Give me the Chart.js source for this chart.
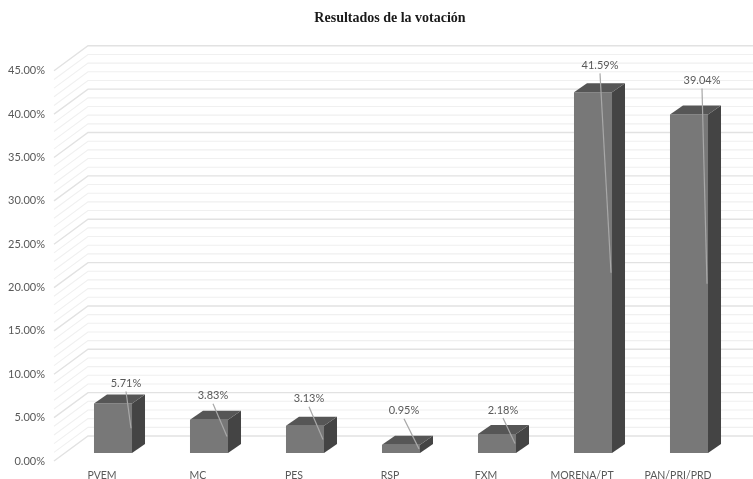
<!DOCTYPE html>
<html><head><meta charset="utf-8">
<style>html,body{margin:0;padding:0;background:#fff}#wrap{width:753px;height:479px}canvas{display:block;filter:blur(0.55px)}</style>
<script src="https://cdn.jsdelivr.net/npm/chart.js@4"></script>
</head><body><div id="wrap"><canvas id="c" width="753" height="479"></canvas></div>
<script>
const categories = ["PVEM","MC","PES","RSP","FXM","MORENA/PT","PAN/PRI/PRD"];
const votes = [5.71,3.83,3.13,0.95,2.18,41.59,39.04];
const chartTitle = "Resultados de la votación";
const axisMin = 0, axisMax = 45, majorStep = 5, minorStep = 1;

const wall = {dx:34, dy:-25};
const barPlane = {dx:11, dy:-8};
const barDepth = {dx:13, dy:-9};
const labelOffsets = [[13,-20],[4,-24],[4,-27],[3,-34],[6,-24],[7,-27],[13,-34]];
const faceColors = {top:"#565656", side:"#444444", edge:"#666666"};

const scene = {
  id:"scene",
  beforeDatasetsDraw(chart){
    const {ctx, chartArea:a, scales:{y}} = chart;
    ctx.save();
    for(let v=axisMin; v<=axisMax; v+=minorStep){
      const p = y.getPixelForValue(v);
      const major = v % majorStep === 0;
      ctx.strokeStyle = major ? "#e2e2e2" : "#f0f0f0";
      ctx.lineWidth = major ? 1.4 : 1.1;
      ctx.beginPath();
      ctx.moveTo(a.left, p);
      ctx.lineTo(a.left+wall.dx, p+wall.dy);
      ctx.lineTo(a.right+wall.dx, p+wall.dy);
      ctx.stroke();
    }
    ctx.restore();
    ctx.save();
    ctx.translate(barPlane.dx, barPlane.dy);
  },
  afterDatasetsDraw(chart){
    const {ctx} = chart;
    const bars = chart.getDatasetMeta(0).data;
    const y = chart.scales.y;
    bars.forEach(b=>{
      const l=b.x-b.width/2, r=b.x+b.width/2, t=b.y, base=b.base;
      ctx.fillStyle=faceColors.side;
      ctx.beginPath();ctx.moveTo(r,t);ctx.lineTo(r+barDepth.dx,t+barDepth.dy);ctx.lineTo(r+barDepth.dx,base+barDepth.dy);ctx.lineTo(r,base);ctx.closePath();ctx.fill();
      ctx.fillStyle=faceColors.top;
      ctx.beginPath();ctx.moveTo(l,t);ctx.lineTo(l+barDepth.dx,t+barDepth.dy);ctx.lineTo(r+barDepth.dx,t+barDepth.dy);ctx.lineTo(r,t);ctx.closePath();ctx.fill();
    });
    ctx.font="11px Lato";
    ctx.textAlign="center";ctx.textBaseline="middle";
    bars.forEach((b,i)=>{
      const r=b.x+b.width/2, lx=b.x+labelOffsets[i][0], ly=b.y+labelOffsets[i][1];
      const mid=y.getPixelForValue(votes[i]/2);
      ctx.strokeStyle="#a8a8a8";ctx.lineWidth=1.2;
      ctx.beginPath();ctx.moveTo(lx,ly+8);ctx.lineTo(r-1,mid);ctx.stroke();
      ctx.fillStyle="#595959";
      ctx.fillText(votes[i].toFixed(2)+"%",lx,ly);
    });
    ctx.restore();
  }
};

new Chart(document.getElementById("c"),{
  type:"bar",
  data:{labels:categories,datasets:[{label:"Votación",data:votes,backgroundColor:"#787878",borderColor:faceColors.edge,borderWidth:0,barPercentage:0.396,categoryPercentage:1}]},
  plugins:[scene],
  options:{
    responsive:false,animation:false,
    layout:{padding:{top:0,right:27,bottom:0,left:0}},
    plugins:{
      legend:{display:false},tooltip:{enabled:false},
      title:{display:true,fullSize:false,text:chartTitle,color:"#1a1a1a",font:{family:"'Liberation Serif'",size:14,weight:"bold"},padding:{top:10,bottom:44}}
    },
    scales:{
      x:{grid:{display:false},border:{display:false},
        ticks:{color:"#595959",font:{family:"Lato",size:10.5},padding:0,maxRotation:0,autoSkip:false},
        afterFit(s){s.height=18;}},
      y:{min:axisMin,max:axisMax,grid:{display:false},border:{display:false},
        ticks:{stepSize:majorStep,color:"#595959",font:{family:"Lato",size:11},padding:1,callback:v=>v.toFixed(2)+"%"},
        afterFit(s){s.width=54;}}
    }
  }
});
</script></body></html>
